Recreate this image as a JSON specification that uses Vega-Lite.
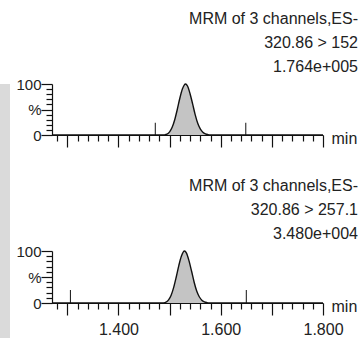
{
  "$schema": "https://vega.github.io/schema/vega-lite/v6.json",
  "background": "white",
  "padding": 0,
  "datasets": {
    "trace": [
      {"panel": "A", "t": 1.27, "v": 0}, {"panel": "A", "t": 1.40, "v": 0}, {"panel": "A", "t": 1.48, "v": 0},
      {"panel": "A", "t": 1.49, "v": 0.3}, {"panel": "A", "t": 1.495, "v": 1.5}, {"panel": "A", "t": 1.50, "v": 6},
      {"panel": "A", "t": 1.505, "v": 15}, {"panel": "A", "t": 1.51, "v": 30}, {"panel": "A", "t": 1.515, "v": 50},
      {"panel": "A", "t": 1.52, "v": 72}, {"panel": "A", "t": 1.525, "v": 90}, {"panel": "A", "t": 1.531, "v": 100},
      {"panel": "A", "t": 1.535, "v": 96}, {"panel": "A", "t": 1.54, "v": 81}, {"panel": "A", "t": 1.545, "v": 61},
      {"panel": "A", "t": 1.55, "v": 40}, {"panel": "A", "t": 1.555, "v": 23}, {"panel": "A", "t": 1.56, "v": 12},
      {"panel": "A", "t": 1.565, "v": 5.5}, {"panel": "A", "t": 1.57, "v": 2.2}, {"panel": "A", "t": 1.575, "v": 0.8},
      {"panel": "A", "t": 1.58, "v": 0.2}, {"panel": "A", "t": 1.59, "v": 0}, {"panel": "A", "t": 1.80, "v": 0},
      {"panel": "B", "t": 1.27, "v": 0}, {"panel": "B", "t": 1.40, "v": 0}, {"panel": "B", "t": 1.478, "v": 0},
      {"panel": "B", "t": 1.488, "v": 0.3}, {"panel": "B", "t": 1.493, "v": 1.5}, {"panel": "B", "t": 1.498, "v": 6},
      {"panel": "B", "t": 1.503, "v": 15}, {"panel": "B", "t": 1.508, "v": 30}, {"panel": "B", "t": 1.513, "v": 50},
      {"panel": "B", "t": 1.518, "v": 72}, {"panel": "B", "t": 1.523, "v": 90}, {"panel": "B", "t": 1.529, "v": 100},
      {"panel": "B", "t": 1.533, "v": 96}, {"panel": "B", "t": 1.538, "v": 81}, {"panel": "B", "t": 1.543, "v": 61},
      {"panel": "B", "t": 1.548, "v": 40}, {"panel": "B", "t": 1.553, "v": 23}, {"panel": "B", "t": 1.558, "v": 12},
      {"panel": "B", "t": 1.563, "v": 5.5}, {"panel": "B", "t": 1.568, "v": 2.2}, {"panel": "B", "t": 1.573, "v": 0.8},
      {"panel": "B", "t": 1.578, "v": 0.2}, {"panel": "B", "t": 1.588, "v": 0}, {"panel": "B", "t": 1.80, "v": 0}
    ],
    "markers": [
      {"panel": "A", "t": 1.472, "h": 24}, {"panel": "A", "t": 1.649, "h": 24},
      {"panel": "B", "t": 1.306, "h": 25}, {"panel": "B", "t": 1.650, "h": 25}
    ],
    "strip": [{"a": 0, "b": 1}]
  },
  "hconcat": [
    {
      "data": {"name": "strip"},
      "width": 10,
      "height": 280,
      "mark": {"type": "rect", "color": "#dadada"},
      "encoding": {
        "x": {"field": "a", "type": "quantitative", "axis": null, "scale": {"domain": [0, 1], "nice": false}},
        "x2": {"field": "b"}
      }
    },
    {
      "vconcat": [
        {
          "width": 271,
          "height": 51,
          "title": {"text": " ", "subtitle": ["MRM of 3 channels,ES-", "320.86 > 152", "1.764e+005"]},
          "layer": [
            {
              "data": {"name": "trace"},
              "transform": [{"filter": "datum.panel === 'A'"}],
              "mark": {"type": "area", "color": "#c4c4c4", "opacity": 1, "interpolate": "monotone", "line": {"color": "#111", "strokeWidth": 1.4}},
              "encoding": {
                "x": {"field": "t", "type": "quantitative", "scale": {"domain": [1.27, 1.80], "nice": false, "zero": false},
                  "axis": {
                    "values": [1.28, 1.30, 1.32, 1.34, 1.36, 1.38, 1.40, 1.42, 1.44, 1.46, 1.48, 1.50, 1.52, 1.54, 1.56, 1.58, 1.60, 1.62, 1.64, 1.66, 1.68, 1.70, 1.72, 1.74, 1.76, 1.78, 1.80],
                    "tickCount": 100, "tickSize": 12,
                    "tickDash": {"condition": {"test": "abs(datum.value*10 - round(datum.value*10)) < 0.001", "value": [20, 0]}, "value": [6, 20]},
                    "labels": false, "labelOverlap": false,
                    "title": "min", "titleX": 279, "titleY": 8, "titleAlign": "left", "titleBaseline": "alphabetic", "titleAnchor": "start"
                  }},
                "y": {"field": "v", "type": "quantitative", "scale": {"domain": [0, 100], "nice": false},
                  "axis": {
                    "title": null, "labelOverlap": false, "tickCount": 100,
                    "values": [0, 10, 20, 30, 40, 50, 60, 70, 80, 90, 100],
                    "labelExpr": "datum.value == 100 ? '100' : datum.value == 50 ? '%' : datum.value == 0 ? '0' : ''",
                    "tickSize": 11,
                    "tickDash": {"condition": {"test": "datum.value % 50 == 0", "value": [20, 0]}, "value": [6, 20]}
                  }}
              }
            },
            {
              "data": {"name": "markers"},
              "transform": [{"filter": "datum.panel === 'A'"}],
              "mark": {"type": "rule", "color": "#111", "strokeWidth": 1},
              "encoding": {
                "x": {"field": "t", "type": "quantitative"},
                "y": {"field": "h", "type": "quantitative"},
                "y2": {"datum": 0}
              }
            }
          ]
        },
        {
          "width": 271,
          "height": 52,
          "title": {"text": " ", "subtitle": ["MRM of 3 channels,ES-", "320.86 > 257.1", "3.480e+004"]},
          "layer": [
            {
              "data": {"name": "trace"},
              "transform": [{"filter": "datum.panel === 'B'"}],
              "mark": {"type": "area", "color": "#c4c4c4", "opacity": 1, "interpolate": "monotone", "line": {"color": "#111", "strokeWidth": 1.4}},
              "encoding": {
                "x": {"field": "t", "type": "quantitative", "scale": {"domain": [1.27, 1.80], "nice": false, "zero": false},
                  "axis": {
                    "values": [1.28, 1.30, 1.32, 1.34, 1.36, 1.38, 1.40, 1.42, 1.44, 1.46, 1.48, 1.50, 1.52, 1.54, 1.56, 1.58, 1.60, 1.62, 1.64, 1.66, 1.68, 1.70, 1.72, 1.74, 1.76, 1.78, 1.80],
                    "tickCount": 100, "tickSize": 12,
                    "tickDash": {"condition": {"test": "abs(datum.value*10 - round(datum.value*10)) < 0.001", "value": [20, 0]}, "value": [6, 20]},
                    "labelOverlap": false, "labelPadding": 6,
                    "labelExpr": "(abs(datum.value*5 - round(datum.value*5)) < 0.001 && datum.value > 1.35) ? format(datum.value, '.3f') : ''",
                    "title": "min", "titleX": 279, "titleY": 8, "titleAlign": "left", "titleBaseline": "alphabetic", "titleAnchor": "start"
                  }},
                "y": {"field": "v", "type": "quantitative", "scale": {"domain": [0, 100], "nice": false},
                  "axis": {
                    "title": null, "labelOverlap": false, "tickCount": 100,
                    "values": [0, 10, 20, 30, 40, 50, 60, 70, 80, 90, 100],
                    "labelExpr": "datum.value == 100 ? '100' : datum.value == 50 ? '%' : datum.value == 0 ? '0' : ''",
                    "tickSize": 11,
                    "tickDash": {"condition": {"test": "datum.value % 50 == 0", "value": [20, 0]}, "value": [6, 20]}
                  }}
              }
            },
            {
              "data": {"name": "markers"},
              "transform": [{"filter": "datum.panel === 'B'"}],
              "mark": {"type": "rule", "color": "#111", "strokeWidth": 1},
              "encoding": {
                "x": {"field": "t", "type": "quantitative"},
                "y": {"field": "h", "type": "quantitative"},
                "y2": {"datum": 0}
              }
            }
          ]
        }
      ],
      "spacing": 19
    }
  ],
  "spacing": 5,
  "config": {
    "view": {"stroke": null},
    "font": "Liberation Sans",
    "title": {
      "anchor": "end", "align": "right", "frame": "group", "dx": 35, "fontSize": 8, "lineHeight": 8,
      "font": "Liberation Sans", "fontWeight": "normal", "color": "#222", "offset": 2,
      "subtitleFont": "Liberation Sans", "subtitleFontSize": 16, "subtitleLineHeight": 24,
      "subtitleColor": "#222", "subtitlePadding": 0
    },
    "axis": {
      "grid": false,
      "domainColor": "#111", "tickColor": "#111", "domainWidth": 1.2, "tickWidth": 1.2,
      "labelFont": "Liberation Sans",
      "labelColor": "#222", "labelFlush": false, "labelBound": false,
      "titleFont": "Liberation Sans", "titleFontSize": 16, "titleFontWeight": "normal", "titleColor": "#222"
    },
    "axisX": {"labelFontSize": 16, "labelPadding": 2},
    "axisY": {"labelFontSize": 15, "labelPadding": 0}
  }
}
